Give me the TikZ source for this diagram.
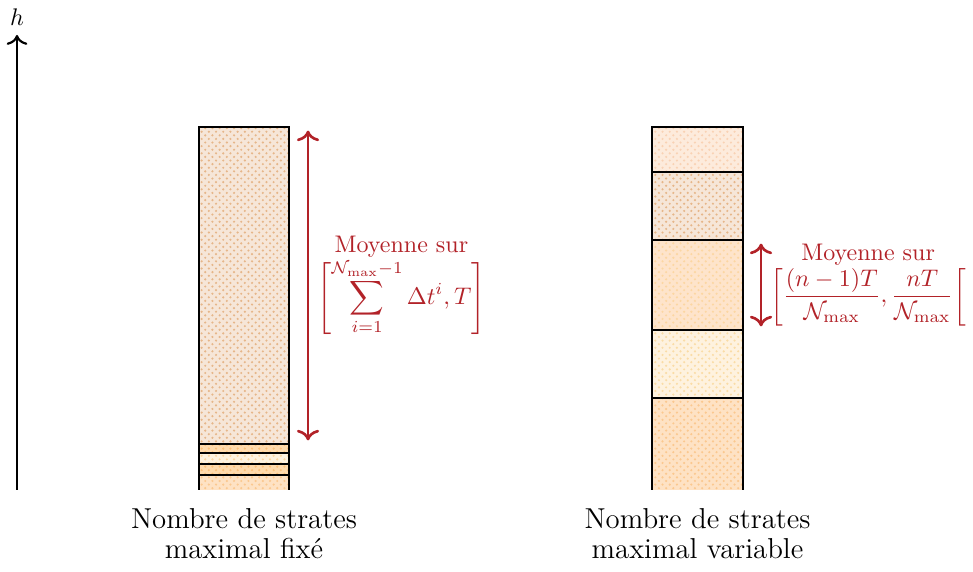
\documentclass[tikz,border=0pt]{standalone}
\usepackage{xcolor}
\usepackage{tikz}
\usetikzlibrary{patterns,arrows.meta}
\usepackage{amsmath}
\definecolor{rouge}{HTML}{B22228}
\definecolor{beigeF}{HTML}{F6E6D8}
\definecolor{beigeP}{HTML}{E6B689}
\definecolor{pecheF}{HTML}{FDEBDC}
\definecolor{pecheP}{HTML}{F9D2B4}
\definecolor{abricotF}{HTML}{FEE4CB}
\definecolor{abricotP}{HTML}{FCD6A2}
\definecolor{cremeF}{HTML}{FEF2DF}
\definecolor{cremeP}{HTML}{FADCA6}
\definecolor{orangeF}{HTML}{FEE2C4}
\definecolor{orangeP}{HTML}{FBC88F}
\definecolor{vifF}{HTML}{FFDAAC}
\definecolor{vifP}{HTML}{FBC07A}

\begin{document}
\begin{tikzpicture}[
  strate/.style 2 args={preaction={fill=#1}, pattern=crosshatch dots, pattern color=#2},
  bord/.style={draw=black, line width=1.1pt},
  arrow/.style={<->, >={To[scale=1.1]}, line width=1.1pt, color=rouge,
                shorten >=1.5pt, shorten <=1.5pt},
  lbl/.style={text=rouge, align=center, right},
  legende/.style={font=\fontsize{12}{12.5}\selectfont, align=center, below, yshift=-4pt}
]
\useasboundingbox (-0.249,-1.186) rectangle (13.997,7.174);

% axe vertical
\coordinate (o) at (0,0);
\coordinate (htop) at (0,6.662);
\draw[->, >={To[scale=1.15]}, line width=0.9pt] (o) -- (htop) node[above] (h) {$h$};

% colonne de gauche : nombre maximal fixe
\fill[strate={beigeF}{beigeP}] (2.665,0.673) rectangle (3.982,5.315);
\fill[strate={vifF}{vifP}] (2.665,0.542) rectangle (3.982,0.673);
\fill[strate={cremeF}{abricotP}] (2.665,0.381) rectangle (3.982,0.542);
\fill[strate={vifF}{vifP}] (2.665,0.220) rectangle (3.982,0.381);
\fill[strate={orangeF}{orangeP}] (2.665,0) rectangle (3.982,0.220);
\draw[bord] (2.665,0) |- (3.982,5.315) -- (3.982,0);
\foreach \y in {0.673,0.542,0.381,0.220}
  \draw[bord] (2.665,\y) -- (3.982,\y);

\coordinate (gA) at (4.261,5.315);
\coordinate (gB) at (4.261,0.673);
\draw[arrow] (gA) -- (gB)
  node[midway, lbl] (mL) {Moyenne sur\\
  $\displaystyle\left[\sum_{i=1}^{\mathcal{N}_{\max}-1}\Delta t^i, T\right]$};

\node[legende] (cL) at (3.3235,0) {Nombre de strates\\maximal fix\'e};

% colonne de droite : nombre maximal variable
\fill[strate={pecheF}{pecheP}] (9.297,4.656) rectangle (10.630,5.315);
\fill[strate={beigeF}{beigeP}] (9.297,3.660) rectangle (10.630,4.656);
\fill[strate={abricotF}{abricotP}] (9.297,2.343) rectangle (10.630,3.660);
\fill[strate={cremeF}{cremeP}] (9.297,1.347) rectangle (10.630,2.343);
\fill[strate={orangeF}{orangeP}] (9.297,0) rectangle (10.630,1.347);
\draw[bord] (9.297,0) |- (10.630,5.315) -- (10.630,0);
\foreach \y in {4.656,3.660,2.343,1.347}
  \draw[bord] (9.297,\y) -- (10.630,\y);

\coordinate (dA) at (10.893,3.660);
\coordinate (dB) at (10.893,2.343);
\draw[arrow] (dA) -- (dB)
  node[midway, lbl] (mR) {Moyenne sur\\
  $\displaystyle\left[\frac{(n-1)T}{\mathcal{N}_{\max}}, \frac{nT}{\mathcal{N}_{\max}}\right[$};

\node[legende] (cR) at (9.9635,0) {Nombre de strates\\maximal variable};

\end{tikzpicture}
\end{document}
